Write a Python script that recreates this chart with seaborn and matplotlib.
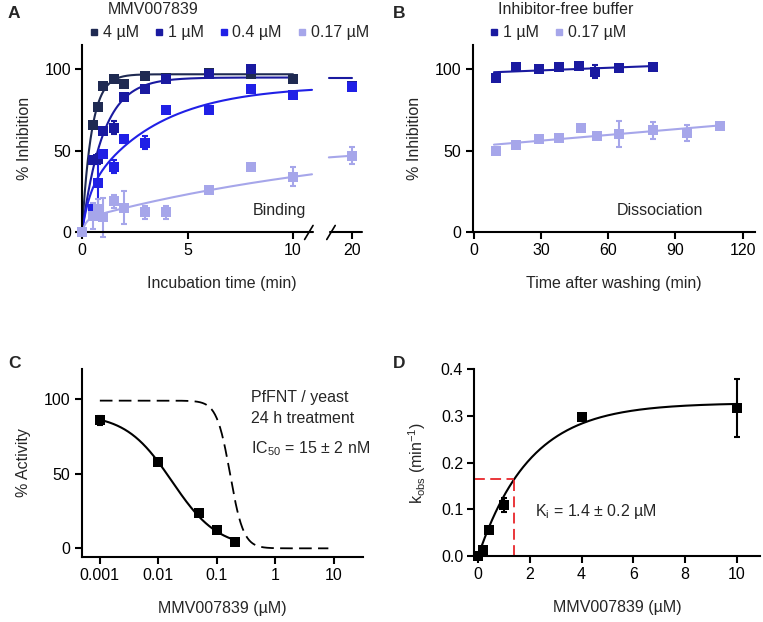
import numpy as np
import pandas as pd
import matplotlib
matplotlib.use("Agg")
import matplotlib.pyplot as plt
import seaborn as sns
from matplotlib.lines import Line2D

# ---- data ----
# A: binding (incubation time in min, % inhibition)
a_series = ["4 µM", "1 µM", "0.4 µM", "0.17 µM"]
a_colors = ["#1f2a52", "#1a1aa0", "#2020e6", "#a6a6ea"]
a_time = {
    "4 µM":    [0, 0.5, 0.75, 1, 1.5, 2, 3, 4, 6, 8, 10],
    "1 µM":    [0, 0.5, 0.75, 1, 1.5, 2, 3, 4, 6, 8, 20],
    "0.4 µM":  [0, 0.5, 0.75, 1, 1.5, 2, 3, 4, 6, 8, 10, 20],
    "0.17 µM": [0, 0.5, 0.75, 1, 1.5, 2, 3, 4, 6, 8, 10, 20],
}
a_value = {
    "4 µM":    [0, 66, 77, 90, 94, 91, 96, 95, 97.5, 97, 94],
    "1 µM":    [0, 44, 45, 62, 64, 83, 88, 94, 97, 100, 90],
    "0.4 µM":  [0, 14, 30, 48, 40, 57, 55, 75, 75, 88, 84, 89],
    "0.17 µM": [0, 10, 14, 9, 19, 15, 12, 12, 26, 40, 34, 47],
}
a_err = {
    "4 µM":    [0, 1, 1, 1, 1, 1, 1, 1, 1, 1, 1],
    "1 µM":    [0, 2, 3, 2, 4, 1, 1, 1, 1, 1, 1],
    "0.4 µM":  [0, 2, 17, 1, 4, 2, 4, 1, 1, 1, 1, 1],
    "0.17 µM": [0, 8, 6, 12, 4, 10, 4, 4, 1, 1, 6, 5],
}
# two-phase fit parameters a, k1, b, k2 and drawn t-ranges
a_fit = {
    "4 µM":    (97, 2.2, 0, 0),
    "1 µM":    (95, 1.0, 0, 0),
    "0.4 µM":  (22, 3.0, 68, 0.3),
    "0.17 µM": (8, 5.0, 52, 0.069),
}
a_segments = {
    "4 µM":    [(0, 10)],
    "1 µM":    [(0, 10), (18.9, 20)],
    "0.4 µM":  [(0, 10.9)],
    "0.17 µM": [(0, 10.9), (18.9, 20)],
}

# B: dissociation
b_series = ["1 µM", "0.17 µM"]
b_colors = ["#1a1aa0", "#a6a6ea"]
b_time = {
    "1 µM":    [10, 19, 29, 38, 47, 54, 65, 80],
    "0.17 µM": [10, 19, 29, 38, 48, 55, 65, 80, 95, 110],
}
b_value = {
    "1 µM":    [94.5, 101.5, 100, 101.5, 102, 98.5, 101, 101.5],
    "0.17 µM": [50, 53.5, 57.5, 58, 64, 59, 60.5, 62.5, 61, 65],
}
b_err = {
    "1 µM":    [1, 1, 1, 1, 1, 4, 1, 1],
    "0.17 µM": [1, 1, 1, 1, 1, 1, 8, 5, 5, 1],
}

# C: dose response in yeast
c_conc = [0.001, 0.01, 0.05, 0.1, 0.2]
c_activity = [86, 58, 24, 12, 4.5]
c_err = [3, 1.5, 1, 1, 0.5]
c_fit = (90, 0.017, 1.1)       # top, IC50, hill
c_ref = (99, 0.168, 3.8)       # dashed reference curve

# D: kobs vs concentration
d_conc = [0, 0.17, 0.4, 1, 4, 10]
d_kobs = [0.0, 0.013, 0.055, 0.11, 0.298, 0.317]
d_err = [0, 0.003, 0.003, 0.015, 0.003, 0.063]
d_fit = (0.328, 2.0)           # kmax, scale


def brk(t):
    # broken x axis of panel A: 0-10.9 then 18.9-20.5
    t = np.asarray(t, dtype=float)
    return np.where(t <= 10.9, t, t - 7.2)


def two_phase(t, a, k1, b, k2):
    return a * (1 - np.exp(-k1 * t)) + b * (1 - np.exp(-k2 * t))


def hill(x, top, ic50, h):
    return top / (1 + (x / ic50) ** h)


sns.set_theme(style="ticks")
plt.rcParams["font.family"] = ["Liberation Sans", "DejaVu Sans"]
plt.rcParams["mathtext.fontset"] = "custom"
plt.rcParams["mathtext.rm"] = "Liberation Sans"
FS = 11.5

fig = plt.figure(figsize=(7.63, 6.22), dpi=100)
W, H = 763, 622


def add_ax(l, t, r, b):
    return fig.add_axes([l / W, 1 - b / H, (r - l) / W, (b - t) / H])


def style(ax):
    sns.despine(ax=ax)
    for s in ["left", "bottom"]:
        ax.spines[s].set_linewidth(1.5)
        ax.spines[s].set_color("black")
    ax.tick_params(direction="out", length=5, width=1.5, labelsize=FS,
                   colors="black", pad=3)


ms = 6.5
eb = dict(elinewidth=1.5, capsize=2.5, capthick=1.5)

# ---------------- A ----------------
axA = add_ax(82, 45, 362, 232)
for name, col in zip(a_series, a_colors):
    df = pd.DataFrame({"x": brk(a_time[name]), "y": a_value[name]})
    axA.errorbar(df["x"], df["y"], yerr=a_err[name], fmt="none", ecolor=col,
                 clip_on=False, zorder=2, **eb)
    sns.scatterplot(data=df, x="x", y="y", ax=axA, marker="s", s=ms ** 2,
                    color=col, edgecolor=col, linewidth=0, clip_on=False, zorder=3)
    for t0, t1 in a_segments[name]:
        tt = np.linspace(t0, t1, 300)
        curve = pd.DataFrame({"x": brk(tt), "y": two_phase(tt, *a_fit[name])})
        sns.lineplot(data=curve, x="x", y="y", ax=axA, color=col, lw=1.5,
                     sort=False, zorder=2)
axA.set_xlim(0, 13.27)
axA.set_ylim(0, 115)
axA.set_xticks(brk([0, 5, 10, 20]))
axA.set_xticklabels(["0", "5", "10", "20"])
axA.set_yticks([0, 50, 100])
style(axA)
axA.spines["bottom"].set_visible(False)
trA = axA.get_xaxis_transform()
axA.plot([0, 10.95], [0, 0], color="black", lw=1.5, transform=trA, clip_on=False)
axA.plot([11.75, 13.27], [0, 0], color="black", lw=1.5, transform=trA, clip_on=False)
for xs in (10.75, 11.8):
    axA.plot([xs - 0.2, xs + 0.2], [-0.04, 0.035], color="black", lw=1.2,
             transform=trA, clip_on=False)
axA.set_xlabel("Incubation time (min)", fontsize=FS, labelpad=13)
axA.set_ylabel("% Inhibition", fontsize=FS, labelpad=9)
axA.text(8.1, 13, "Binding", fontsize=FS, va="center", ha="left")

# ---------------- B ----------------
axB = add_ax(472.7, 45, 755, 232)
for name, col in zip(b_series, b_colors):
    df = pd.DataFrame({"x": b_time[name], "y": b_value[name]})
    axB.errorbar(df["x"], df["y"], yerr=b_err[name], fmt="none", ecolor=col,
                 zorder=2, **eb)
    sns.scatterplot(data=df, x="x", y="y", ax=axB, marker="s", s=ms ** 2,
                    color=col, edgecolor=col, linewidth=0, zorder=3)
    slope, icpt = np.polyfit(df["x"], df["y"], 1)
    tt = np.linspace(min(b_time[name]) - 1, max(b_time[name]), 100)
    sns.lineplot(x=tt, y=icpt + slope * tt, ax=axB, color=col, lw=1.5, zorder=2)
axB.set_xlim(-0.5, 125.5)
axB.set_ylim(0, 115)
axB.set_xticks([0, 30, 60, 90, 120])
axB.set_yticks([0, 50, 100])
style(axB)
axB.set_xlabel("Time after washing (min)", fontsize=FS, labelpad=13)
axB.set_ylabel("% Inhibition", fontsize=FS, labelpad=9)
axB.text(64, 13, "Dissociation", fontsize=FS, va="center", ha="left")

# ---------------- C ----------------
axC = add_ax(81.7, 369.3, 363.3, 556.7)
xx = np.logspace(np.log10(c_conc[0]), np.log10(8), 400)
sns.lineplot(x=xx, y=hill(xx, *c_ref), ax=axC, color="black", lw=1.3,
             dashes=False, linestyle=(0, (7, 3.5)))
xs = np.logspace(np.log10(c_conc[0]), np.log10(c_conc[-1]), 300)
sns.lineplot(x=xs, y=hill(xs, *c_fit), ax=axC, color="black", lw=1.5)
axC.errorbar(c_conc, c_activity, yerr=c_err, fmt="none", ecolor="black", **eb)
sns.scatterplot(x=c_conc, y=c_activity, ax=axC, marker="s", s=ms ** 2,
                color="black", linewidth=0, zorder=3)
axC.set_xscale("log")
axC.set_xlim(10 ** -3.31, 10 ** 1.5)
axC.set_ylim(-5.6, 120)
axC.set_xticks([0.001, 0.01, 0.1, 1, 10])
axC.set_xticklabels(["0.001", "0.01", "0.1", "1", "10"])
axC.minorticks_off()
axC.set_yticks([0, 50, 100])
style(axC)
axC.set_xlabel("MMV007839 (µM)", fontsize=FS, labelpad=13)
axC.set_ylabel("% Activity", fontsize=FS, labelpad=9)
axC.text(0.6, 0.85, "PfFNT / yeast", transform=axC.transAxes, fontsize=FS,
         va="center")
axC.text(0.6, 0.74, "24 h treatment", transform=axC.transAxes, fontsize=FS,
         va="center")
axC.text(0.6, 0.575, r"IC$_{\mathregular{50}}$ = 15 ± 2 nM", transform=axC.transAxes,
         fontsize=FS, va="center")

# ---------------- D ----------------
axD = add_ax(474.3, 369.3, 760, 556)
kmax, sc = d_fit
xd = np.linspace(0, 10, 300)
sns.lineplot(x=xd, y=kmax * (1 - np.exp(-xd / sc)), ax=axD, color="black", lw=1.5)
x_half = sc * np.log(2)
axD.plot([-0.15, x_half], [kmax / 2, kmax / 2], color="#e8262b", lw=1.3,
         linestyle=(0, (6, 3)))
axD.plot([x_half, x_half], [0, kmax / 2], color="#e8262b", lw=1.3,
         linestyle=(0, (6, 3)))
axD.errorbar(d_conc, d_kobs, yerr=d_err, fmt="none", ecolor="black",
             clip_on=False, **eb)
sns.scatterplot(x=d_conc, y=d_kobs, ax=axD, marker="s", s=ms ** 2,
                color="black", linewidth=0, zorder=3, clip_on=False)
axD.set_xlim(-0.15, 10.9)
axD.set_ylim(0, 0.4)
axD.set_xticks([0, 2, 4, 6, 8, 10])
axD.set_yticks([0, 0.1, 0.2, 0.3, 0.4])
axD.set_yticklabels(["0.0", "0.1", "0.2", "0.3", "0.4"])
style(axD)
axD.set_xlabel("MMV007839 (µM)", fontsize=FS, labelpad=13)
axD.set_ylabel(r"k$_{\mathregular{obs}}$ (min$^{\mathregular{-1}}$)", fontsize=FS,
               labelpad=9)
axD.text(2.2, 0.095, r"K$_{\mathregular{i}}$ = 1.4 ± 0.2 µM", fontsize=FS,
         va="center")

# ---------------- legends / titles ----------------
def legend_row(names, cols, x0, y0):
    handles = [Line2D([], [], marker="s", ls="none", color=c, markersize=5)
               for c in cols]
    fig.legend(handles, names, loc="center left",
               bbox_to_anchor=(x0 / W, 1 - y0 / H), ncol=len(names),
               frameon=False, handlelength=0.5, handletextpad=0.3,
               columnspacing=1.0, fontsize=FS, borderaxespad=0, borderpad=0)


legend_row(a_series, a_colors, 90, 33)
legend_row(b_series, b_colors, 490, 33)
fig.text(153 / W, 1 - 10 / H, "MMV007839", ha="center", va="center", fontsize=FS)
fig.text(566 / W, 1 - 10 / H, "Inhibitor-free buffer", ha="center", va="center",
         fontsize=FS)

for lab, (px, py) in zip("ABCD", [(8, 14), (393, 14), (8, 363), (393, 363)]):
    fig.text(px / W, 1 - py / H, lab, fontsize=12.5, fontweight="bold",
             ha="left", va="center")

fig.savefig("out.png", dpi=100)
